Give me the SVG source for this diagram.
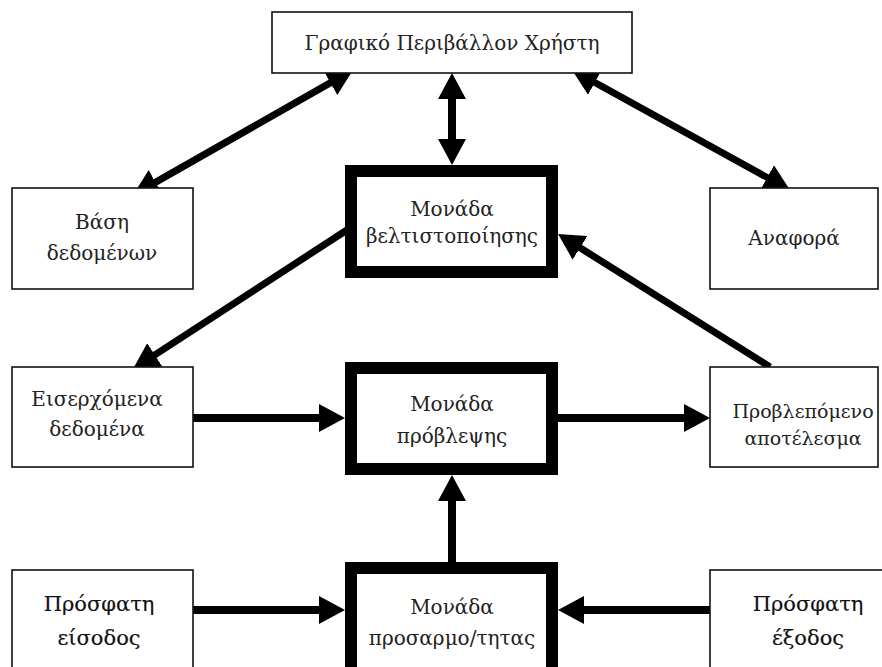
<svg xmlns="http://www.w3.org/2000/svg" width="882" height="667" viewBox="0 0 882 667">
  <style>
    .box { fill: #ffffff; stroke: #111111; stroke-width: 1.6; }
    .unit { fill: #ffffff; stroke: #000000; stroke-width: 12; }
    .lbl { font-family: "DejaVu Serif", "Liberation Serif", serif; font-size: 20px; fill: #222222; text-anchor: middle; }
    .lbl-b { font-family: "DejaVu Serif", "Liberation Serif", serif; font-size: 21px; fill: #111111; stroke: #111111; stroke-width: 0.15; text-anchor: middle; }
    .conn { stroke: #000000; fill: none; stroke-width: 8; }
    .diag { stroke-width: 7; }
  </style>
  <defs>
    <marker id="ah" markerUnits="userSpaceOnUse" markerWidth="26" markerHeight="28" viewBox="0 0 26 28" refX="16" refY="14" orient="auto-start-reverse">
      <path d="M0,0 L26,14 L0,28 z" fill="#000000"/>
    </marker>
  </defs>
  <rect width="882" height="667" fill="#ffffff"/>

  <!-- connectors -->
  <g id="connectors">
    <line class="conn diag" x1="141.7" y1="190.1" x2="344.3" y2="74.9" marker-start="url(#ah)" marker-end="url(#ah)"/>
    <line class="conn diag" x1="580.8" y1="74.8" x2="781.2" y2="185.2" marker-start="url(#ah)" marker-end="url(#ah)"/>
    <line class="conn" x1="452" y1="83" x2="452" y2="155" marker-start="url(#ah)" marker-end="url(#ah)"/>
    <line class="conn diag" x1="350" y1="228" x2="141.4" y2="363.6" marker-end="url(#ah)"/>
    <line class="conn diag" x1="770" y1="367" x2="566.5" y2="239.3" marker-end="url(#ah)"/>
    <line class="conn" x1="193" y1="418" x2="335" y2="418" marker-end="url(#ah)"/>
    <line class="conn" x1="558" y1="418" x2="700" y2="418" marker-end="url(#ah)"/>
    <line class="conn" x1="452" y1="562" x2="452" y2="485" marker-end="url(#ah)"/>
    <line class="conn" x1="193" y1="610" x2="335" y2="610" marker-end="url(#ah)"/>
    <line class="conn" x1="710" y1="610" x2="568" y2="610" marker-end="url(#ah)"/>
  </g>

  <!-- nodes -->
  <g id="gui">
    <rect class="box" x="272" y="12" width="360" height="61"/>
    <text class="lbl" x="452" y="50">Γραφικό Περιβάλλον Χρήστη</text>
  </g>
  <g id="database">
    <rect class="box" x="12" y="188" width="181" height="101"/>
    <text class="lbl" x="102" y="229">Βάση</text>
    <text class="lbl" x="102" y="260">δεδομένων</text>
  </g>
  <g id="optimizer">
    <rect class="unit" x="351" y="171" width="201" height="101"/>
    <text class="lbl" x="452" y="216">Μονάδα</text>
    <text class="lbl" x="452" y="243">βελτιστοποίησης</text>
  </g>
  <g id="report">
    <rect class="box" x="710" y="188" width="168" height="101"/>
    <text class="lbl" x="794" y="245">Αναφορά</text>
  </g>
  <g id="incoming">
    <rect class="box" x="12" y="367" width="181" height="100"/>
    <text class="lbl" x="97" y="406">Εισερχόμενα</text>
    <text class="lbl" x="97" y="436">δεδομένα</text>
  </g>
  <g id="predictor">
    <rect class="unit" x="351" y="368" width="201" height="101"/>
    <text class="lbl" x="452" y="411">Μονάδα</text>
    <text class="lbl" x="452" y="443">πρόβλεψης</text>
  </g>
  <g id="predicted">
    <rect class="box" x="710" y="367" width="168" height="100"/>
    <text class="lbl" x="803" y="418" style="font-size:19px">Προβλεπόμενο</text>
    <text class="lbl" x="803" y="445" style="font-size:19px">αποτέλεσμα</text>
  </g>
  <g id="recent-input">
    <rect class="box" x="12" y="570" width="181" height="120"/>
    <text class="lbl-b" x="99" y="611">Πρόσφατη</text>
    <text class="lbl-b" x="99" y="645">είσοδος</text>
  </g>
  <g id="adapter">
    <rect class="unit" x="351" y="568" width="201" height="120"/>
    <text class="lbl" x="452" y="614">Μονάδα</text>
    <text class="lbl" x="452" y="645">προσαρμο/τητας</text>
  </g>
  <g id="recent-output">
    <rect class="box" x="710" y="570" width="200" height="120"/>
    <text class="lbl-b" x="808" y="611">Πρόσφατη</text>
    <text class="lbl-b" x="808" y="645">έξοδος</text>
  </g>
</svg>
